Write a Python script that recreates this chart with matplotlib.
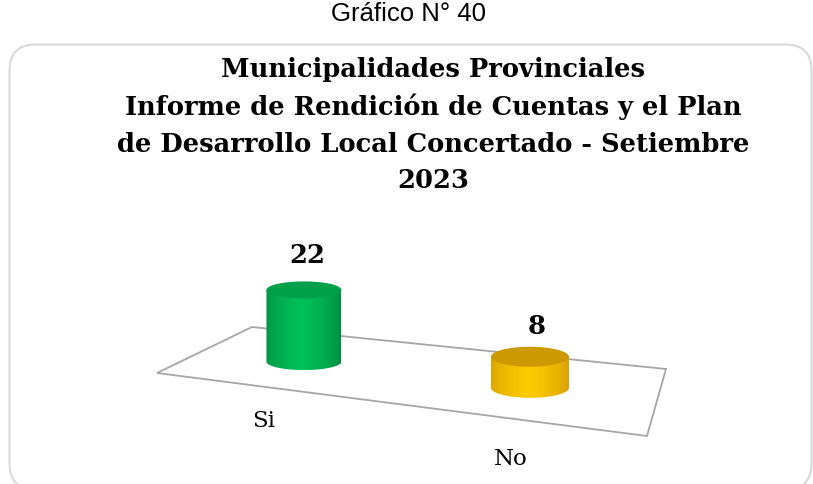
import numpy as np
import matplotlib
matplotlib.use('Agg')
import matplotlib.pyplot as plt
from matplotlib.patches import FancyBboxPatch, Polygon, Ellipse, PathPatch
from matplotlib.path import Path
from matplotlib.colors import to_rgb

# Datos
categorias = ['Si', 'No']
valores = [22, 8]
colores_cuerpo = ['#00c25a', '#ffcc00']
colores_borde = ['#008a3e', '#d49c00']
colores_tapa = ['#00a04a', '#cc9900']

titulo_sup = 'Gráfico N° 40'
titulo_lineas = ['Municipalidades Provinciales',
                 'Informe de Rendición de Cuentas y el Plan',
                 'de Desarrollo Local Concertado - Setiembre',
                 '2023']

W, H = 813, 484

# Piso en perspectiva (esquinas en pixeles)
piso_atras_izq = np.array([252, 327])
piso_atras_der = np.array([666, 369])
piso_frente_izq = np.array([157, 373])
piso_frente_der = np.array([647, 436])

def punto_piso(u, v):
    atras = (1 - u) * piso_atras_izq + u * piso_atras_der
    frente = (1 - u) * piso_frente_izq + u * piso_frente_der
    return (1 - v) * atras + v * frente

# escala del eje de valores (px por unidad)
px_por_unidad = 2.9
eje_min = -2.7


def cilindro(ax, cx, cy, ancho, alto_elipse, altura, c_centro, c_borde, c_tapa):
    top = cy - altura
    # cuerpo con degradado horizontal
    t = np.linspace(0, np.pi, 60)
    xs = cx + (ancho / 2) * np.cos(t)
    ys = cy + (alto_elipse / 2) * np.sin(t)
    verts = [(cx + ancho / 2, top)] + list(zip(xs, ys)) + [(cx - ancho / 2, top), (cx + ancho / 2, top)]
    patch = PathPatch(Path(verts), facecolor='none', edgecolor='none')
    ax.add_patch(patch)
    s = np.linspace(0, 1, 200)
    # brillo maximo un poco a la izquierda del centro
    w = np.clip(1 - np.abs(s - 0.48) / 0.52, 0, 1) ** 0.6
    a = np.array(to_rgb(c_borde))
    b = np.array(to_rgb(c_centro))
    grad = a[None, :] * (1 - w[:, None]) + b[None, :] * w[:, None]
    img = ax.imshow(grad[None, :, :], extent=(cx - ancho / 2, cx + ancho / 2, cy + alto_elipse / 2, top),
                    aspect='auto', zorder=3, interpolation='bilinear')
    img.set_clip_path(patch)
    ax.add_patch(Ellipse((cx, top), ancho, alto_elipse, facecolor=c_tapa, edgecolor='none', zorder=4))


fig = plt.figure(figsize=(W / 100, H / 100), dpi=100)
ax = fig.add_axes([0, 0, 1, 1])
ax.set_xlim(0, W)
ax.set_ylim(H, 0)
ax.axis('off')

# marco redondeado
ax.add_patch(FancyBboxPatch((9.5, 44.5), W - 11, 445, boxstyle='round,pad=0,rounding_size=26',
                            facecolor='white', edgecolor='#d9d9d9', linewidth=1.5, zorder=0))

ax.text(408, 14, titulo_sup, ha='center', va='center', fontsize=18.5,
        family='Liberation Sans', color='#000000')
for k, linea in enumerate(titulo_lineas):
    ax.text(433, 70 + 37 * k, linea, ha='center', va='center', fontsize=18.5, fontweight='bold',
            family='DejaVu Serif', color='#000000')

# piso
piso = Polygon([piso_atras_izq, piso_atras_der, piso_frente_der, piso_frente_izq], closed=True,
               facecolor='none', edgecolor='#a6a6a6', linewidth=1.3, zorder=1)
ax.add_patch(piso)

for i, (cat, val) in enumerate(zip(categorias, valores)):
    u = 0.22 + 0.5 * i
    cx, cy = punto_piso(u, 0.5)
    ancho = 75 + 3 * i
    alto_elipse = 17 + 3 * i
    altura = px_por_unidad * (val - eje_min)
    cilindro(ax, cx, cy, ancho, alto_elipse, altura,
             colores_cuerpo[i], colores_borde[i], colores_tapa[i])
    ax.text(cx + 3 + 4 * i, cy - altura - alto_elipse / 2 - 26 + 6 * i, str(val), ha='center', va='center',
            fontsize=18.5, fontweight='bold', family='DejaVu Serif', zorder=5)
    fx, fy = punto_piso(u, 1.0)
    ax.text(fx - 1 + 2 * i, fy + 34 + 7 * i, cat, ha='center', va='center', fontsize=16.5,
            family='DejaVu Serif', zorder=5)

fig.savefig('out.png', dpi=100)
